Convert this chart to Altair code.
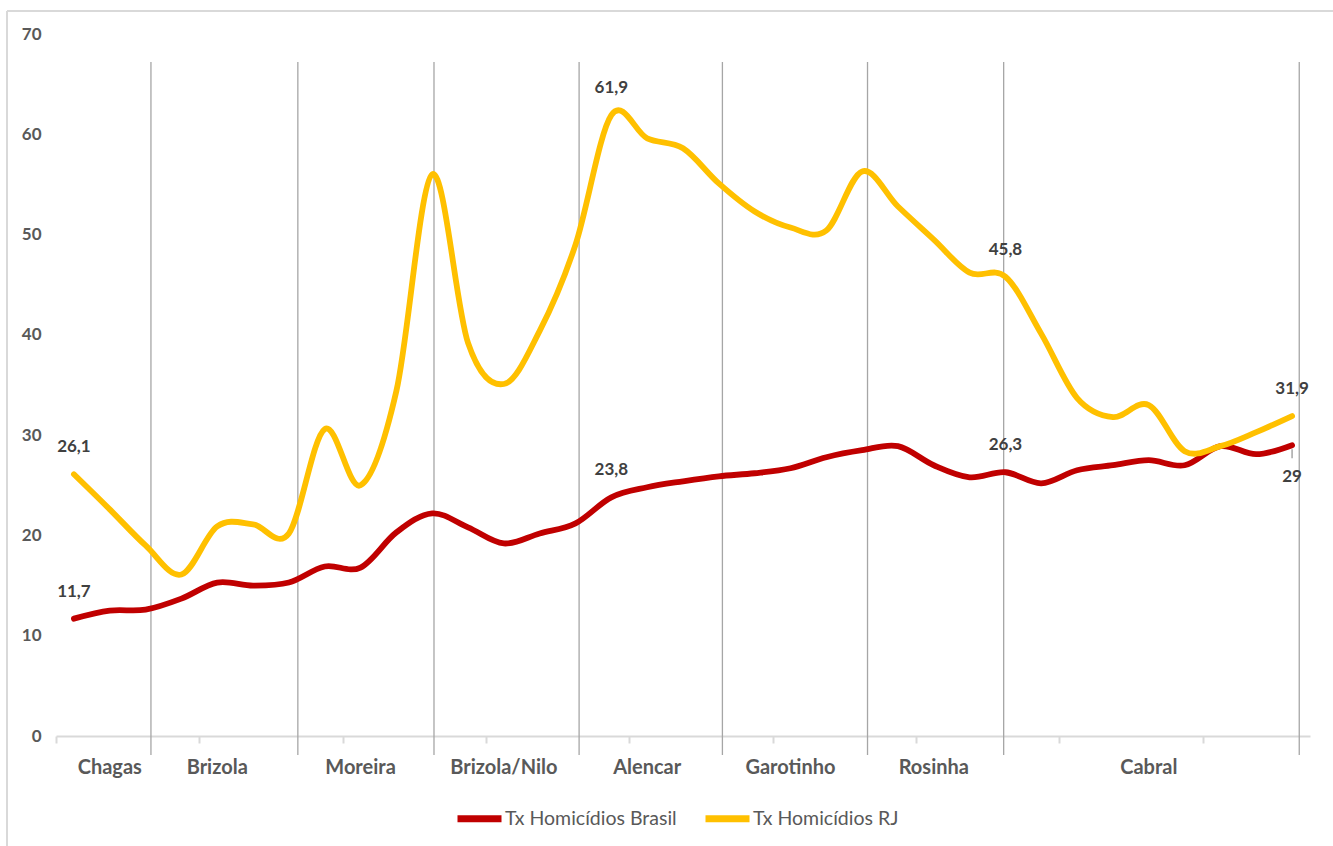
import altair as alt
import pandas as pd

# Homicide rates per 100k inhabitants, 1980-2014
years = list(range(1980, 2015))
brasil = [11.7, 12.5, 12.6, 13.7, 15.3, 15.0, 15.3, 16.9, 16.8, 20.3,
          22.2, 20.8, 19.2, 20.2, 21.2, 23.8, 24.8, 25.4, 25.9, 26.2,
          26.7, 27.8, 28.5, 28.9, 27.0, 25.8, 26.3, 25.2, 26.5, 27.0,
          27.5, 27.0, 28.9, 28.1, 29.0]
rio = [26.1, 22.6, 19.0, 16.1, 20.9, 21.1, 20.2, 30.6, 25.0, 34.4,
       56.0, 39.2, 35.1, 40.4, 49.0, 61.9, 59.6, 58.6, 55.1, 52.3,
       50.7, 50.4, 56.3, 52.8, 49.5, 46.2, 45.8, 40.1, 33.7, 31.8,
       33.0, 28.4, 28.9, 30.3, 31.9]

SERIES_BR = "Tx Homicídios Brasil"
SERIES_RJ = "Tx Homicídios RJ"

# Governor names and the year under which each name is written
governors = ["Chagas", "Brizola", "Moreira", "Brizola/Nilo",
             "Alencar", "Garotinho", "Rosinha", "Cabral"]
governor_years = [1981, 1984, 1988, 1992, 1996, 2000, 2004, 2010]

# Separators between administrations (fractional year positions)
term_breaks = [1982.15, 1986.25, 1990.05, 1994.1, 1998.1, 2002.15, 2005.95, 2014.2]

# Category tick marks every four years, placed between categories
tick_years = [1979.5 + 4 * k for k in range(9)]

# Years whose values are written on the chart
labeled_years = [1980, 1995, 2006, 2014]

FONT = "Lato"
W, H = 1254, 702
PAD = {"left": 56, "top": 34, "right": 23, "bottom": 110}

lines_df = pd.concat([
    pd.DataFrame({"ano": years, "taxa": brasil, "serie": SERIES_BR}),
    pd.DataFrame({"ano": years, "taxa": rio, "serie": SERIES_RJ}),
], ignore_index=True)


def fmt(v):
    return f"{v:g}".replace(".", ",")


above_rows, below_rows = [], []
for yr in labeled_years:
    i = years.index(yr)
    above_rows.append({"ano": yr, "taxa": rio[i], "txt": fmt(rio[i])})
    if yr == 2014:
        below_rows.append({"ano": yr, "taxa": brasil[i], "txt": fmt(brasil[i]),
                           "lead_top": brasil[i] - 0.4, "lead_bot": brasil[i] - 1.3})
    else:
        above_rows.append({"ano": yr, "taxa": brasil[i], "txt": fmt(brasil[i])})
above_df = pd.DataFrame(above_rows)
below_df = pd.DataFrame(below_rows)

gov_df = pd.DataFrame({"ano": governor_years, "nome": governors})
breaks_df = pd.DataFrame({"ano": term_breaks})

x_scale = alt.Scale(domain=[1979.5, 2014.5], nice=False, zero=False)
y_scale = alt.Scale(domain=[0, 70], nice=False)

x_axis = alt.Axis(values=tick_years, labels=False, title=None, grid=False,
                  domainColor="#D9D9D9", domainWidth=2,
                  tickColor="#D9D9D9", tickWidth=2, tickSize=7)
y_axis = alt.Axis(values=list(range(0, 71, 10)), title=None, grid=False,
                  domain=False, ticks=False, labelPadding=15,
                  labelFont=FONT, labelFontWeight="bold", labelFontSize=17,
                  labelColor="#595959")

X = alt.X("ano:Q", scale=x_scale, axis=x_axis)
Y = alt.Y("taxa:Q", scale=y_scale, axis=y_axis)

# Outer frame of the chart (top and left edges)
frame_df = pd.DataFrame({"k": [0]})
frame_top = alt.Chart(frame_df).mark_rule(color="#D9D9D9", strokeWidth=2).encode(
    x=alt.value(-49), x2=alt.value(W + PAD["right"]), y=alt.value(-23))
frame_left = alt.Chart(frame_df).mark_rule(color="#D9D9D9", strokeWidth=2).encode(
    x=alt.value(-49), y=alt.value(-23), y2=alt.value(H + PAD["bottom"]))

separators = alt.Chart(breaks_df).mark_rule(color="#A6A6A6", strokeWidth=1.3).encode(
    x=alt.X("ano:Q", scale=x_scale, axis=x_axis),
    y=alt.value(28), y2=alt.value(721))

lines = alt.Chart(lines_df).mark_line(
    interpolate="cardinal", strokeWidth=5.8, strokeCap="round", strokeJoin="round"
).encode(
    x=X, y=Y,
    color=alt.Color("serie:N",
                    scale=alt.Scale(domain=[SERIES_BR, SERIES_RJ],
                                    range=["#C00000", "#FFC000"]),
                    legend=alt.Legend(orient="none", legendX=398, legendY=759,
                                      direction="horizontal", title=None,
                                      symbolType="stroke", symbolStrokeWidth=7,
                                      symbolSize=1936, labelFont=FONT,
                                      labelFontSize=19.5, labelColor="#595959",
                                      labelLimit=400,
                                      labelOffset=0, columnPadding=14, padding=0)),
)

labels_above = alt.Chart(above_df).mark_text(
    font=FONT, fontWeight="bold", fontSize=17, color="#404040",
    baseline="middle", dy=-27
).encode(x=X, y=Y, text="txt:N")

labels_below = alt.Chart(below_df).mark_text(
    font=FONT, fontWeight="bold", fontSize=17, color="#404040",
    baseline="middle", dy=32
).encode(x=X, y=Y, text="txt:N")

leader = alt.Chart(below_df).mark_rule(color="#A6A6A6", strokeWidth=1.5).encode(
    x=X, y=alt.Y("lead_top:Q", scale=y_scale, axis=y_axis), y2="lead_bot:Q")

gov_labels = alt.Chart(gov_df).mark_text(
    font=FONT, fontWeight="bold", fontSize=20, color="#595959", baseline="middle"
).encode(x=X, y=alt.value(734), text="nome:N")

chart = alt.layer(
    frame_top, frame_left, separators, lines, leader,
    labels_above, labels_below, gov_labels
).properties(
    width=W, height=H, padding=PAD,
    autosize=alt.AutoSizeParams(type="none"),
    background="white"
).configure_view(stroke=None)

chart.save("out.html", embed_options={"renderer": "svg", "actions": False})
